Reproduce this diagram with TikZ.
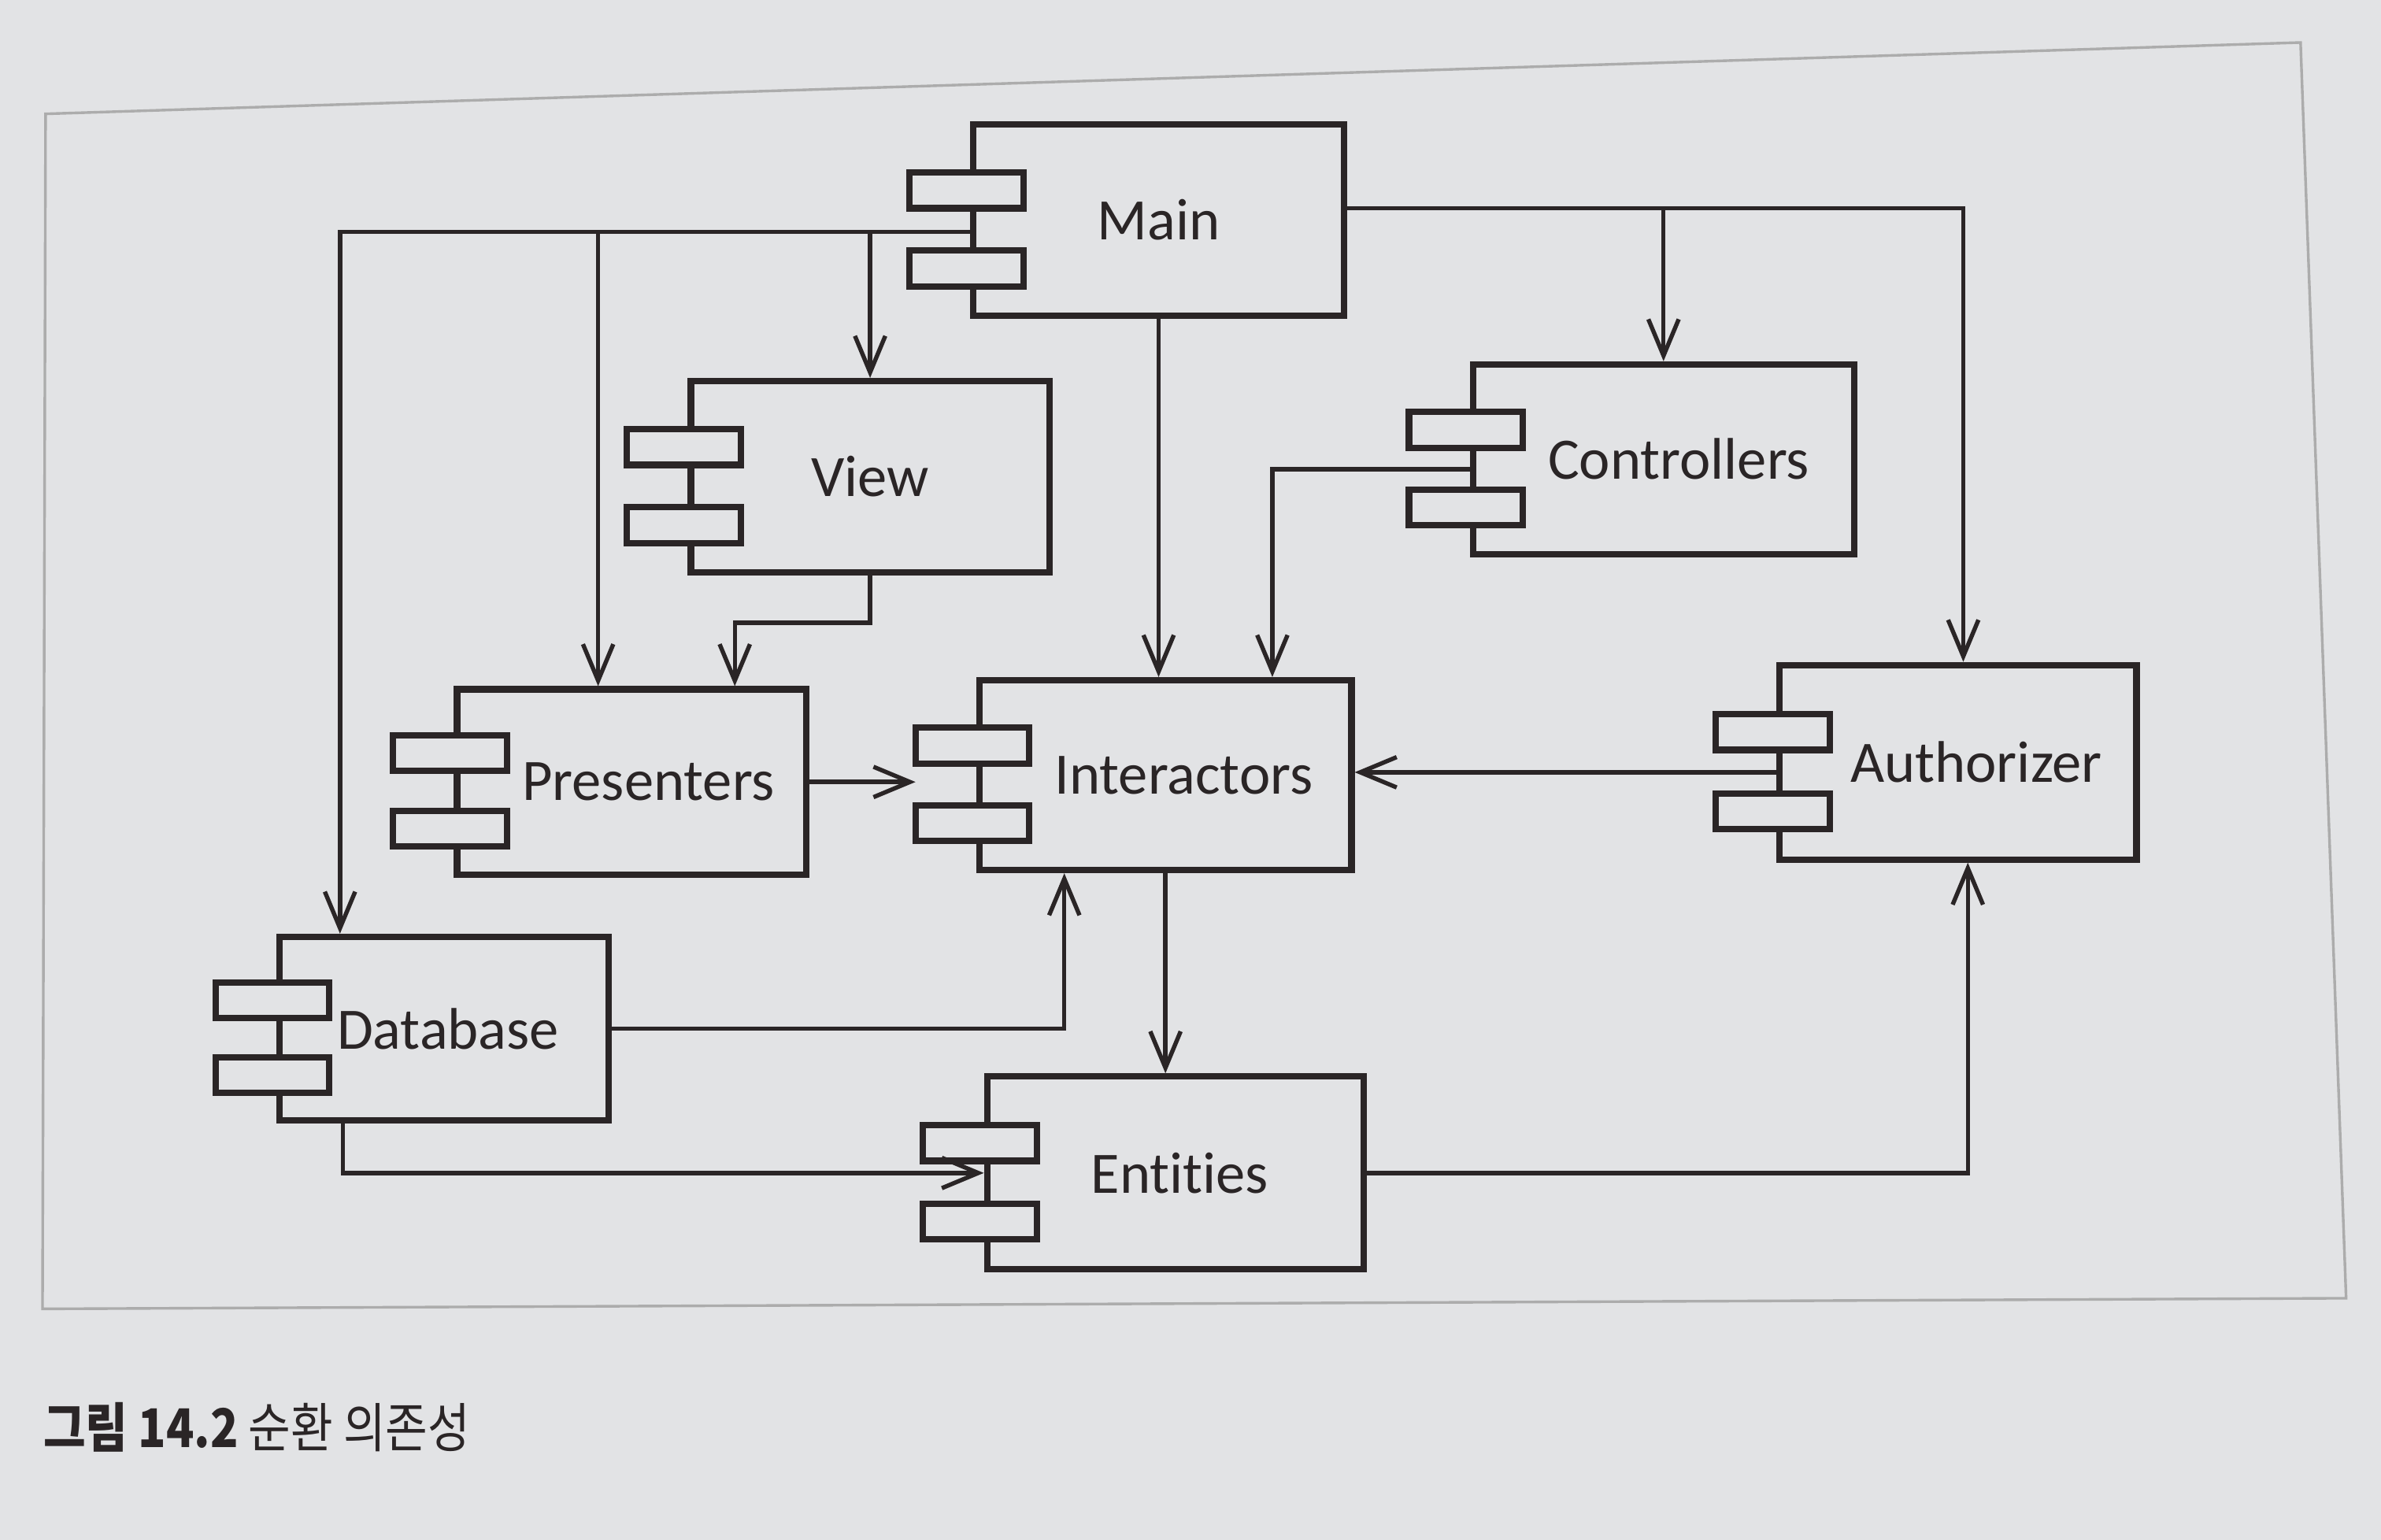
\documentclass[tikz,border=0pt]{standalone}
\usepackage{fontspec}
\setmainfont{Carlito}[Ligatures=NoCommon]
\newfontfamily\krfont{Noto Sans CJK KR}
\usetikzlibrary{arrows.meta,calc}
\definecolor{paper}{RGB}{226,227,229}
\definecolor{ink}{RGB}{42,37,38}

\begin{document}
\begin{tikzpicture}
\tikzstyle{comp} = [rectangle, draw = ink, line width = 1.2pt, fill = paper, inner sep = 0pt, text = ink, font = \fontsize{11}{13}\selectfont]
\tikzstyle{tab} = [draw = ink, line width = 1.2pt, fill = paper]
\tikzstyle{dep} = [draw = ink, line width = 0.8pt, -{Straight Barb[length=2.4mm, width=2mm]}]
% -----------------------------------
% page and frame
\fill[paper] (0,0) rectangle (15.68,-10.14);
\draw[gray!65, line width = 0.5pt] (0.30,-0.75) -- (15.15,-0.28) -- (15.45,-8.55) -- (0.28,-8.62) -- cycle;

% -----------------------------------
% components
\node[comp, minimum width = 2.44cm, minimum height = 1.26cm] (main) at (7.63, -1.45) {Main};
\node[comp, minimum width = 2.36cm, minimum height = 1.26cm] (view) at (5.73, -3.14) {View};
\node[comp, minimum width = 2.51cm, minimum height = 1.25cm] (controllers) at (10.955, -3.025) {\hspace*{0.2cm}Controllers};
\node[comp, minimum width = 2.30cm, minimum height = 1.22cm] (presenters) at (4.16, -5.15) {\hspace*{0.22cm}Presenters};
\node[comp, minimum width = 2.45cm, minimum height = 1.25cm] (interactors) at (7.675, -5.105) {\hspace*{0.24cm}Interactors};
\node[comp, minimum width = 2.35cm, minimum height = 1.28cm] (authorizer) at (12.895, -5.02) {\hspace*{0.24cm}Authorizer};
\node[comp, minimum width = 2.17cm, minimum height = 1.21cm] (database) at (2.925, -6.775) {\hspace*{0.05cm}Database};
\node[comp, minimum width = 2.48cm, minimum height = 1.27cm] (entities) at (7.74, -7.725) {\hspace*{0.06cm}Entities};

% the two little tabs on every component
\foreach \n in {main, view, controllers, presenters, interactors, authorizer, database, entities} {
  \draw[tab] ($(\n.north west)!0.35!(\n.south west) + (-0.40,-0.117)$) rectangle ++(0.75,0.235);
  \draw[tab] ($(\n.north west)!0.745!(\n.south west) + (-0.40,-0.117)$) rectangle ++(0.75,0.235);
}

% -----------------------------------
% ports
\coordinate (mport) at ($(main.north west)!0.56!(main.south west)$);
\coordinate (mrport) at ($(main.north east)!0.44!(main.south east)$);
\coordinate (cport) at ($(controllers.north west)!0.55!(controllers.south west)$);
\coordinate (aport) at ($(authorizer.north west)!0.55!(authorizer.south west)$);
\coordinate (eport) at ($(entities.north west)!0.5!(entities.south west)$);
\coordinate (itab) at ([xshift=-0.40cm]interactors.west);
\coordinate (dbin) at ([xshift=0.42cm]database.north west);
\coordinate (dbout) at ([xshift=0.44cm]database.south west);
\coordinate (prin) at ([xshift=0.95cm]presenters.north west);
\coordinate (prin2) at ([xshift=1.85cm]presenters.north west);
\coordinate (inin) at ([xshift=1.95cm]interactors.north west);
\coordinate (inbot) at ([xshift=0.58cm]interactors.south west);
\coordinate (auin) at ([xshift=1.23cm]authorizer.north west);
\coordinate (aubot) at ([xshift=1.26cm]authorizer.south west);

% -----------------------------------
% Main
\draw[dep] (mport) -| (dbin);
\draw[dep] (mport -| prin) -- (prin);
\draw[dep] (mport -| view.north) -- (view.north);
\draw[dep] (main.south) -- (main.south |- interactors.north);
\draw[dep] (mrport) -| (auin);
\draw[dep] (mrport -| controllers.north) -- (controllers.north);

% View, Controllers, Presenters, Authorizer
\draw[dep] (view.south) -- ++(0,-0.31) -| (prin2);
\draw[dep] (cport) -| (inin);
\draw[dep] (presenters.east) -- (presenters.east -| itab);
\draw[dep] (aport) -- (aport -| interactors.east);

% Database, Interactors, Entities
\draw[dep] (database.east) -| (inbot);
\draw[dep] (interactors.south) -- (interactors.south |- entities.north);
\draw[dep] (dbout) |- (eport);
\draw[dep] (entities.east) -| (aubot);
% -----------------------------------

\node[anchor = west, text = ink, font = \krfont\fontsize{10}{12}\selectfont, xscale = 0.86, transform shape] (caption) at (0.18, -9.40) {\textbf{그림 14.2} 순환 의존성};
\end{tikzpicture}
\end{document}
